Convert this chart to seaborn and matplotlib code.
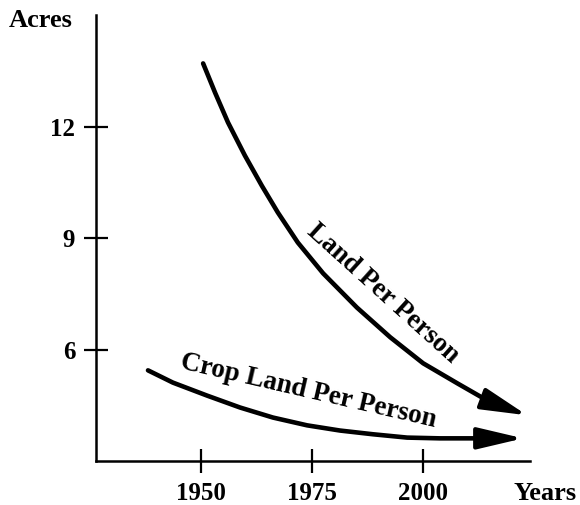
import pandas as pd
import seaborn as sns
import matplotlib.pyplot as plt

# values
land_years = [1950.5, 1953.2, 1956.1, 1959.9, 1963.7, 1967.3, 1971.8, 1977.5,
              1985.1, 1992.6, 2000, 2007.7, 2014.4, 2023.4]
land_acres = [13.7, 12.91, 12.11, 11.22, 10.41, 9.69, 8.88, 8.05,
              7.13, 6.33, 5.63, 5.09, 4.63, 4.23]
crop_years = [1938.1, 1943.7, 1951.4, 1958.8, 1966.2, 1973.9, 1981.3, 1988.7,
              1996.4, 2003.8, 2013.5, 2022.5]
crop_acres = [5.44, 5.11, 4.76, 4.44, 4.17, 3.96, 3.82, 3.72,
              3.63, 3.61, 3.61, 3.61]
x_ticks = [1950, 1975, 2000]
y_ticks = [6, 9, 12]

sns.set_style("white")
plt.rcParams['font.family'] = ['Liberation Serif', 'DejaVu Serif']
plt.rcParams['font.weight'] = 'bold'
plt.rcParams['text.color'] = 'black'
plt.rcParams['xtick.color'] = 'black'
plt.rcParams['ytick.color'] = 'black'

fig = plt.figure(figsize=(5.8, 5.05), dpi=100)
ax = fig.add_axes([0.1655, 0.0871, 0.748, 0.883])

land = pd.DataFrame({"year": land_years, "acres": land_acres})
crop = pd.DataFrame({"year": crop_years, "acres": crop_acres})

# lines stop at the second to last point, the arrow covers the last segment
sns.lineplot(data=land.iloc[:-1], x="year", y="acres", color="black", lw=3.3, ax=ax)
sns.lineplot(data=crop.iloc[:-1], x="year", y="acres", color="black", lw=3.3, ax=ax)
for df in (land, crop):
    ax.annotate("", xy=(df.year.iloc[-1], df.acres.iloc[-1]),
                xytext=(df.year.iloc[-2], df.acres.iloc[-2]),
                arrowprops=dict(arrowstyle="-|>,head_length=1.4,head_width=0.33",
                                color="black", lw=3, mutation_scale=20,
                                shrinkA=0, shrinkB=0))

ax.set_xlim(1926.4, 2024)
ax.set_ylim(3, 15)
ax.set_xticks(x_ticks)
ax.set_yticks(y_ticks)
ax.tick_params(bottom=True, left=True, direction="inout", length=17, width=1.6,
               pad=6.5, labelsize=18, color="black", labelcolor="black")
for s in ("top", "right"):
    ax.spines[s].set_visible(False)
for s in ("left", "bottom"):
    ax.spines[s].set_linewidth(1.8)
    ax.spines[s].set_color("black")
ax.set_xlabel("")
ax.set_ylabel("")

ax.text(-0.127, 0.988, "Acres", transform=ax.transAxes, ha="center",
        va="center", fontsize=19, fontweight="bold")
ax.annotate("Years", xy=(2027.4, 0), xycoords=ax.get_xaxis_transform(),
            xytext=(0, -15), textcoords="offset points", ha="center",
            va="top", fontsize=19, fontweight="bold", annotation_clip=False)

ax.text(1990.9, 7.5, "Land Per Person", rotation=-42, ha="center",
        va="center", fontsize=19.5, fontweight="bold")
ax.text(1974.1, 4.87, "Crop Land Per Person", rotation=-13, ha="center",
        va="center", fontsize=19.5, fontweight="bold")

plt.savefig("out.png", dpi=100)
plt.close()
